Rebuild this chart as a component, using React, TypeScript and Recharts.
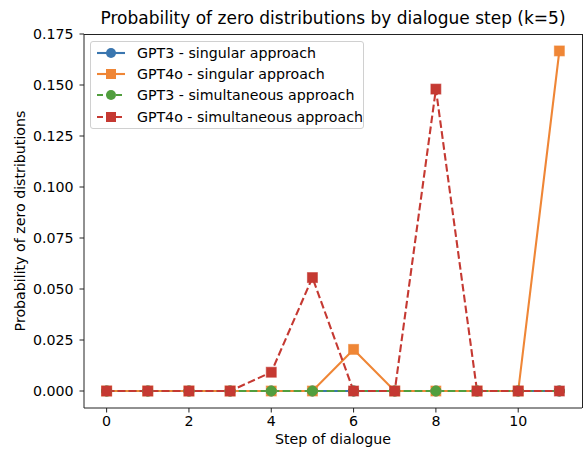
import { LineChart, Line, XAxis, YAxis } from "recharts";

const STEPS = [0, 1, 2, 3, 4, 5, 6, 7, 8, 9, 10, 11];
const GPT3_SINGULAR = [0, 0, 0, 0, 0, 0, 0, 0, 0, 0, 0, 0];
const GPT4O_SINGULAR = [0, 0, 0, 0, 0, 0, 0.0204, 0, 0, 0, 0, 0.1667];
const GPT3_SIMULT = [0, 0, 0, 0, 0, 0, 0, 0, 0, 0, 0, 0];
const GPT4O_SIMULT = [0, 0, 0, 0, 0.0092, 0.0556, 0, 0, 0.148, 0, 0, 0];
const X_TICKS = [0, 2, 4, 6, 8, 10];
const Y_TICKS = [0, 0.025, 0.05, 0.075, 0.1, 0.125, 0.15, 0.175];

const SERIES = [
  { key: "g3s", name: "GPT3 - singular approach", color: "#3a76af", marker: "circle", dashed: false },
  { key: "g4s", name: "GPT4o - singular approach", color: "#ef8636", marker: "square", dashed: false },
  { key: "g3m", name: "GPT3 - simultaneous approach", color: "#519e3e", marker: "circle", dashed: true },
  { key: "g4m", name: "GPT4o - simultaneous approach", color: "#c53932", marker: "square", dashed: true },
];

const data = STEPS.map((s, i) => ({
  step: s,
  g3s: GPT3_SINGULAR[i],
  g4s: GPT4O_SINGULAR[i],
  g3m: GPT3_SIMULT[i],
  g4m: GPT4O_SIMULT[i],
}));

const FONT = "DejaVu Sans, sans-serif";
const FS = 14.2;
const DASH = "7.7 3.3";

function makeDot(color: string, marker: string) {
  return (props: any) => {
    const { cx, cy, index } = props;
    if (cx == null || cy == null) return <g key={index} />;
    if (marker === "square") {
      return <rect key={index} x={cx - 5} y={cy - 5} width={10} height={10} fill={color} stroke={color} strokeOpacity={0.6} strokeWidth={1} />;
    }
    return <circle key={index} cx={cx} cy={cy} r={5} fill={color} stroke={color} strokeWidth={1} />;
  };
}

function LegendBox() {
  return (
    <div style={{ position: "absolute", left: 90, top: 41, border: "1px solid #d0d0d0", borderRadius: 3, background: "rgba(255,255,255,0.85)", width: 274, height: 88, boxSizing: "border-box", paddingTop: 0 }}>
      {SERIES.map((s) => (
        <div key={s.key} style={{ display: "flex", alignItems: "center", height: 21.3, fontFamily: FONT, fontSize: FS, color: "#000" }}>
          <svg width={40} height={14} style={{ marginLeft: 5 }}>
            <line x1={1} y1={7} x2={29} y2={7} stroke={s.color} strokeWidth={2.1} strokeDasharray={s.dashed ? "6 3.5" : undefined} />
            {s.marker === "square" ? (
              <rect x={10} y={2} width={10} height={10} fill={s.color} />
            ) : (
              <circle cx={15} cy={7} r={5} fill={s.color} />
            )}
          </svg>
          <span style={{ marginLeft: 1, whiteSpace: "nowrap" }}>{s.name}</span>
        </div>
      ))}
    </div>
  );
}

export default function App() {
  const tick = { fill: "#000", fontSize: FS, fontFamily: FONT };
  return (
    <div style={{ position: "absolute", left: 0, top: 0, width: 583, height: 455, background: "#fff" }}>
      <div style={{ position: "absolute", left: 84, width: 498, top: 8, textAlign: "center", fontFamily: FONT, fontSize: 17, color: "#000", whiteSpace: "nowrap" }}>
        Probability of zero distributions by dialogue step (k=5)
      </div>
      <div style={{ position: "absolute", left: 333, top: 431, transform: "translateX(-50%)", fontFamily: FONT, fontSize: FS, color: "#000", whiteSpace: "nowrap" }}>
        Step of dialogue
      </div>
      <div style={{ position: "absolute", left: 20, top: 221, transform: "translate(-50%, -50%) rotate(-90deg)", fontFamily: FONT, fontSize: FS, color: "#000", whiteSpace: "nowrap" }}>
        Probability of zero distributions
      </div>
      <LineChart width={583} height={455} data={data} margin={{ top: 34, right: 1, bottom: 0, left: 0 }}>
        <XAxis
          dataKey="step"
          type="number"
          domain={[-0.55, 11.55]}
          ticks={X_TICKS}
          height={47}
          tick={tick}
          tickSize={4.5}
          tickMargin={3}
          stroke="#222"
          tickLine={{ stroke: "#222" }}
          allowDataOverflow
        />
        <YAxis
          type="number"
          domain={[-0.00833, 0.175]}
          ticks={Y_TICKS}
          width={84}
          tick={tick}
          tickSize={4.5}
          tickMargin={6}
          tickFormatter={(v: number) => v.toFixed(3)}
          stroke="#222"
          allowDataOverflow
        />
        {SERIES.map((s) => (
          <Line
            key={s.key}
            dataKey={s.key}
            name={s.name}
            type="linear"
            stroke={s.color}
            strokeWidth={2.1}
            strokeDasharray={s.dashed ? DASH : undefined}
            dot={makeDot(s.color, s.marker)}
            activeDot={false}
            isAnimationActive={false}
          />
        ))}
      </LineChart>
      <div style={{ position: "absolute", left: 84, top: 34, width: 499, height: 374, borderTop: "1px solid #222", borderRight: "1px solid #222", boxSizing: "border-box", pointerEvents: "none" }} />
      <LegendBox />
    </div>
  );
}
